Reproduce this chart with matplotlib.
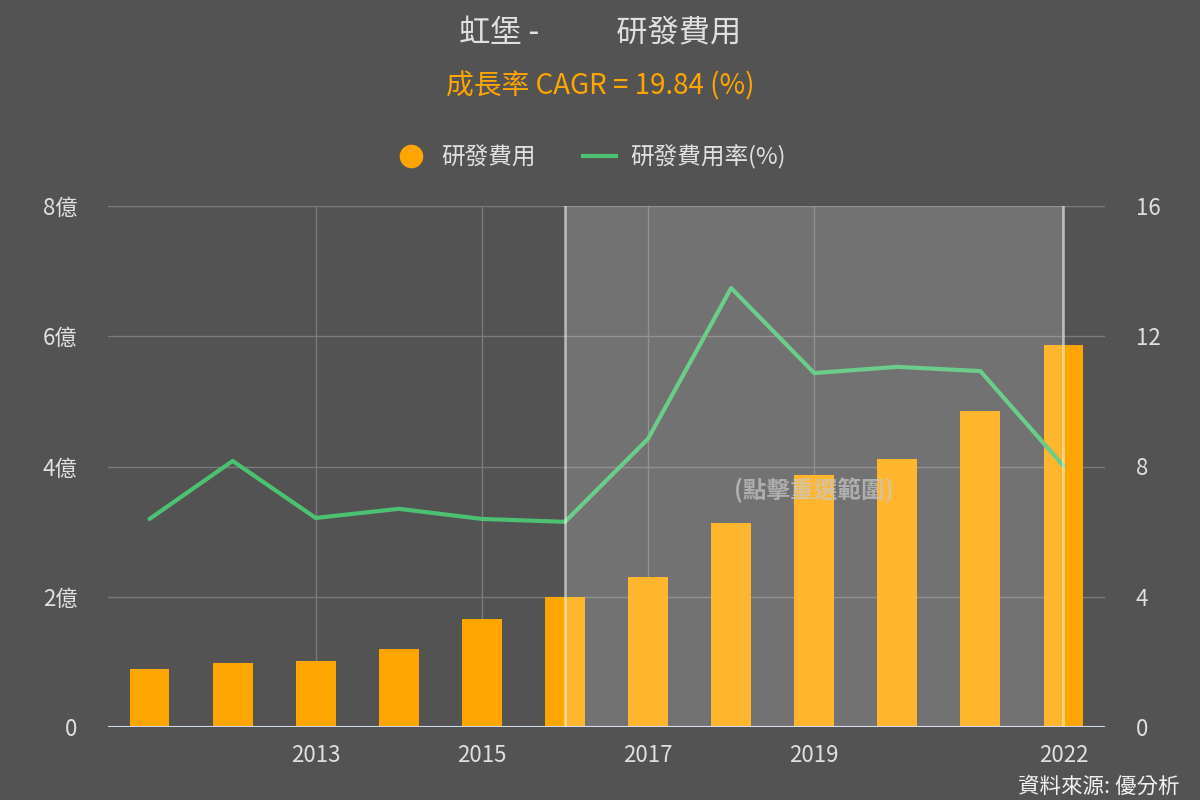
import matplotlib
matplotlib.use("Agg")
import matplotlib.pyplot as plt
from matplotlib.lines import Line2D
import numpy as np

plt.rcParams['font.family'] = ['Noto Sans CJK TC', 'DejaVu Sans']

years = [2011, 2012, 2013, 2014, 2015, 2016, 2017, 2018, 2019, 2020, 2021, 2022]
rd_expense = [0.89, 0.98, 1.01, 1.20, 1.66, 2.00, 2.30, 3.13, 3.87, 4.12, 4.85, 5.87]  # 億
rd_ratio = [6.39, 8.17, 6.42, 6.70, 6.39, 6.30, 8.85, 13.48, 10.87, 11.06, 10.93, 8.02]  # %
xtick_years = [2013, 2015, 2017, 2019, 2022]
left_ticks = [0, 2, 4, 6, 8]
left_labels = ['0', '2億', '4億', '6億', '8億']
right_ticks = [0, 4, 8, 12, 16]
sel_start, sel_end = 2016, 2022

bg = '#535353'
fig = plt.figure(figsize=(12, 8), dpi=100, facecolor=bg)
ax = fig.add_axes([108/1200, 1-727/800, (1105-108)/1200, (727-206)/800])
ax.set_facecolor(bg)
ax2 = ax.twinx()

ax.bar(years, rd_expense, width=0.48, color='#FFA500', zorder=3)
ax2.plot(years, rd_ratio, color='#4cc171', lw=3, zorder=4, solid_capstyle='round')

ax.set_xlim(2010.5, 2022.5)
ax.set_ylim(0, 8)
ax2.set_ylim(0, 16)
ax.set_yticks(left_ticks)
ax.set_yticklabels(left_labels)
ax2.set_yticks(right_ticks)
ax.set_xticks(xtick_years)
ax.set_xticklabels([str(y) for y in xtick_years])

for a in (ax, ax2):
    for s in a.spines.values():
        s.set_visible(False)
    a.tick_params(length=0, colors='#e0e0e0', labelsize=16)
ax.tick_params(axis='y', pad=22)
ax2.tick_params(axis='y', pad=22)
ax.tick_params(axis='x', pad=12)

ax.grid(True, color='#7a7a7a', lw=1, zorder=0)
ax.set_axisbelow(True)
ax.axhline(0, color='#ccd6eb', lw=1.5, zorder=5)

# selection overlay
ax2.axvspan(sel_start, sel_end, color='white', alpha=0.18, lw=0, zorder=6)
for xv in (sel_start, sel_end):
    ax2.axvline(xv, color='white', alpha=0.5, lw=2, zorder=7)
ax2.text(2019, 7.28, '(點擊重選範圍)', color='#c8c8c8', alpha=0.7, fontsize=17,
         fontweight='bold', ha='center', va='center', zorder=8)

# titles
fig.text(0.5, 1-33/800, '虹堡 -           研發費用', color='#e0e0e0', fontsize=22.5,
         ha='center', va='center')
fig.text(0.5, 1-86/800, '成長率 CAGR = 19.84 (%)', color='#FFA500', fontsize=20,
         ha='center', va='center')

# legend
handles = [Line2D([], [], marker='o', color='none', markerfacecolor='#FFA500',
                  markeredgecolor='none', markersize=17),
           Line2D([], [], color='#4cc171', lw=3)]
leg = fig.legend(handles, ['研發費用', '研發費用率(%)'], loc='center',
                 bbox_to_anchor=(590/1200, 1-157/800), ncol=2, frameon=False,
                 fontsize=17, labelcolor='#e0e0e0', columnspacing=2.0,
                 handlelength=1.4, handletextpad=0.6)

fig.text(1180/1200, 1-787/800, '資料來源: 優分析', color='#f0f0f0', fontsize=15.5,
         ha='right', va='center')

fig.savefig('out.png', dpi=100, facecolor=bg)
